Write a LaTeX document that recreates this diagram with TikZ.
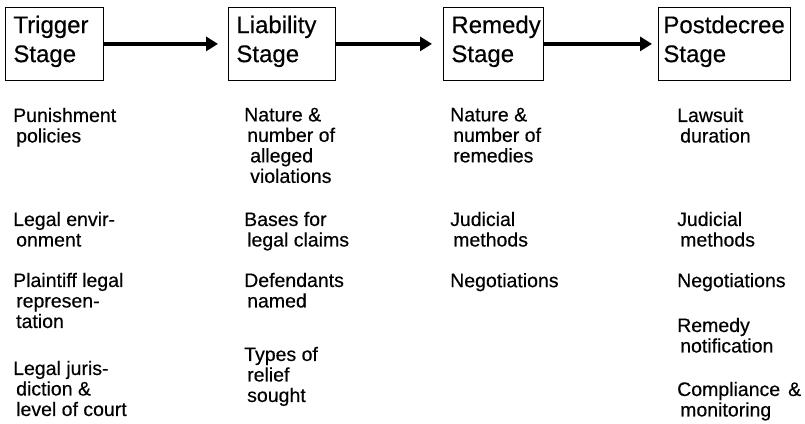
\documentclass[tikz,border=0pt]{standalone}
\usepackage{fontspec}
\setmainfont[FakeBold=0.4]{Liberation Sans}
\usetikzlibrary{arrows.meta,positioning}

\newcommand{\ind}{\hspace*{3pt}}

\tikzset{
  stage/.style={draw, line width=0.8pt, anchor=north west, minimum height=73pt,
    inner xsep=8pt, inner ysep=0pt, text depth=39pt, align=left,
    font=\fontsize{24}{29}\selectfont},
  factor/.style={anchor=north west, yshift=14.35pt, inner sep=0pt, align=left,
    font=\fontsize{19.5}{20.5}\selectfont, execute at begin node=\strut},
  flow/.style={line width=4.5pt, -{Triangle[length=12pt,width=14pt]}}
}

\begin{document}
\begin{tikzpicture}[x=1pt, y=-1pt]

  \useasboundingbox (0,0) rectangle (805,423);

  \node [stage, text width=82pt] (trigger) at (5,7) {Trigger\\Stage};
  \node [stage, text width=91pt] (liability) at (228,7) {Liability\\Stage};
  \node [stage, text width=84pt] (remedy) at (443,7) {Remedy\\Stage};
  \node [stage, inner xsep=5pt, text width=122pt] (postdecree) at (658,7) {Postdecree\\Stage};

  \path [flow, shorten >=10pt] (trigger) edge (liability) ;

  \path [flow, shorten >=11pt] (liability) edge (remedy) ;

  \path [flow, shorten >=6pt] (remedy) edge (postdecree) ;

  % trigger stage
  \node [factor] (trigger-1) at (13,122) {Punishment\\\ind policies};
  \node [factor] (trigger-2) at (13,226) {Legal envir-\\\ind onment};
  \node [factor] (trigger-3) at (13,287) {Plaintiff legal\\\ind represen-\\\ind tation};
  \node [factor] (trigger-4) at (13,375) {Legal juris-\\\ind diction \&\\\ind level of court};

  % liability stage
  \node [factor] (liability-1) at (244,122) {Nature \&\\\ind number of\\\ind\ind alleged\\\ind\ind violations};
  \node [factor] (liability-2) at (244,226) {Bases for\\\ind legal claims};
  \node [factor] (liability-3) at (244,287) {Defendants\\\ind named};
  \node [factor] (liability-4) at (244,361) {Types of\\\ind relief\\\ind sought};

  % remedy stage
  \node [factor] (remedy-1) at (450,122) {Nature \&\\\ind number of\\\ind remedies};
  \node [factor] (remedy-2) at (450,226) {Judicial\\\ind methods};
  \node [factor] (remedy-3) at (450,287) {Negotiations};

  % postdecree stage
  \node [factor] (postdecree-1) at (677,122) {Lawsuit\\\ind duration};
  \node [factor] (postdecree-2) at (677,226) {Judicial\\\ind methods};
  \node [factor] (postdecree-3) at (677,287) {Negotiations};
  \node [factor] (postdecree-4) at (677,332) {Remedy\\\ind notification};
  \node [factor] (postdecree-5) at (677,396) {Compliance\hspace{8pt}\&\\\ind monitoring};

\end{tikzpicture}
\end{document}
